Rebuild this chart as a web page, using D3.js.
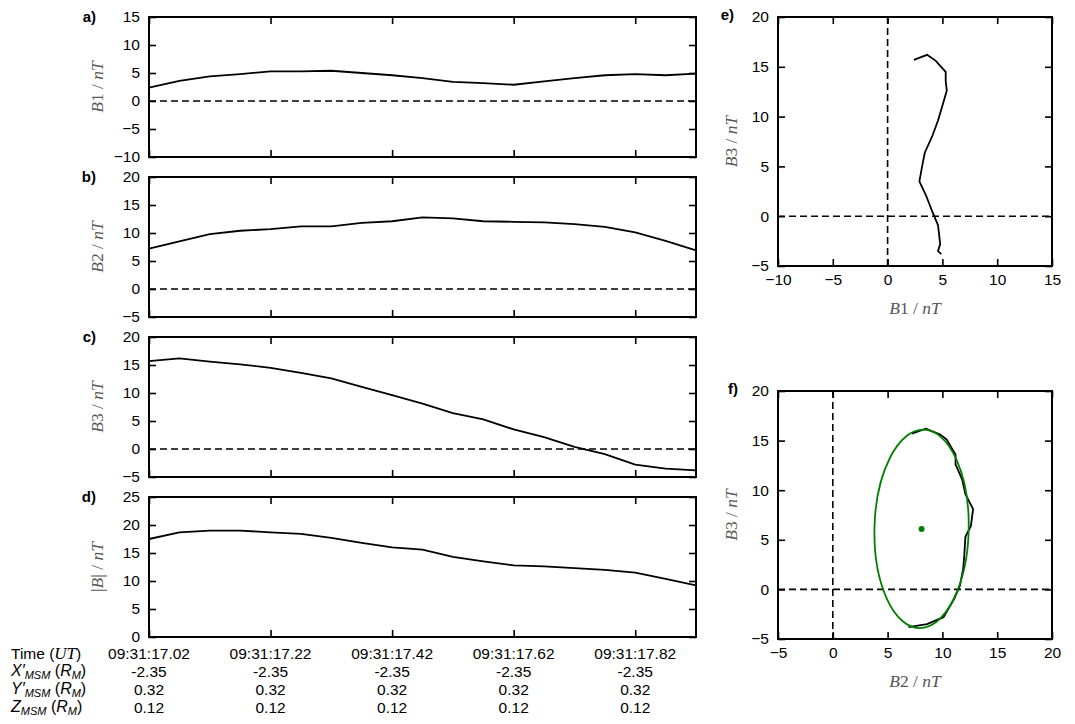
<!DOCTYPE html>
<meta charset="utf-8">
<style>
body { margin: 0; background: #fff; }
text { font-family: "Liberation Sans", Arial, sans-serif; }
.tick text { font-size: 15.5px; fill: #000; }
.tick line { stroke: #000; stroke-width: 1.6; }
.domain { display: none; }
.frame { fill: none; stroke: #000; stroke-width: 2; }
.zero { stroke: #000; stroke-width: 1.6; stroke-dasharray: 7,4; }
.trace { fill: none; stroke: #000; stroke-width: 1.8; }
.math { font-family: "Liberation Serif", "DejaVu Serif", serif; font-size: 17.5px; fill: #555; }
.tab { font-size: 15.5px; fill: #000; }
.letter { font-size: 15px; font-weight: bold; }
</style>
<svg width="1075" height="724"></svg>
<script src="https://d3js.org/d3.v7.min.js"></script>
<script>

// sample times (seconds after 09:31)
var times = [17.02, 17.07, 17.12, 17.17, 17.22, 17.27, 17.32, 17.37, 17.42, 17.47,
             17.52, 17.57, 17.62, 17.67, 17.72, 17.77, 17.82, 17.87, 17.92];
var B1 = [2.4, 3.6, 4.4, 4.8, 5.3, 5.3, 5.4, 5.0, 4.6, 4.1, 3.4, 3.2, 2.9, 3.5, 4.1, 4.6, 4.8, 4.6, 4.9];
var B2 = [7.2, 8.5, 9.8, 10.4, 10.7, 11.2, 11.2, 11.8, 12.1, 12.8, 12.6, 12.1, 12.0, 11.9, 11.6, 11.1, 10.1, 8.6, 6.9];
var B3 = [15.7, 16.2, 15.6, 15.1, 14.5, 13.6, 12.6, 11.1, 9.6, 8.1, 6.4, 5.3, 3.5, 2.1, 0.4, -0.9, -2.8, -3.5, -3.8];
var Bmag = [17.5, 18.7, 19.0, 19.0, 18.7, 18.4, 17.7, 16.8, 16.0, 15.6, 14.3, 13.5, 12.8, 12.6, 12.3, 12.0, 11.5, 10.4, 9.2];

var timeTicks = [17.02, 17.22, 17.42, 17.62, 17.82];
var timeLabels = ["09:31:17.02", "09:31:17.22", "09:31:17.42", "09:31:17.62", "09:31:17.82"];
var xMSM = ["-2.35", "-2.35", "-2.35", "-2.35", "-2.35"];
var yMSM = ["0.32", "0.32", "0.32", "0.32", "0.32"];
var zMSM = ["0.12", "0.12", "0.12", "0.12", "0.12"];

// fitted ellipse in B2-B3 plane: centre, semi-axes (B2, B3), tilt in degrees
var ellipseCenter = [8.1, 6.1];
var ellipseAxes = [4.3, 10.0];
var ellipseTilt = 1.3;

var svg = d3.select("svg");
var tickLen = 7;

function frame(g, x, y, xt, yt, showX, showY) {
  var w = x.range()[1] - x.range()[0], h = y.range()[0] - y.range()[1];
  g.append("g").attr("class", "axis")
      .attr("transform", "translate(0," + h + ")")
      .call(d3.axisBottom(x).tickValues(xt).tickSize(-tickLen).tickPadding(8)
        .tickFormat(showX ? null : ""));
  g.append("g").attr("class", "axis")
      .call(d3.axisTop(x).tickValues(xt).tickSize(-tickLen).tickFormat(""));
  g.append("g").attr("class", "axis")
      .call(d3.axisLeft(y).tickValues(yt).tickSize(-tickLen).tickPadding(9)
        .tickFormat(showY ? null : ""));
  g.append("g").attr("class", "axis")
      .attr("transform", "translate(" + w + ",0)")
      .call(d3.axisRight(y).tickValues(yt).tickSize(-tickLen).tickFormat(""));
  g.append("rect").attr("class", "frame").attr("width", w).attr("height", h);
}

function mathLabel(sel, parts) {
  parts.forEach(function(p) {
    sel.append("tspan").attr("font-style", p[1] ? "italic" : "normal").text(p[0]);
  });
}

// ---- left time-series panels
var left = 149, right = 696, ph = 140;
var panels = [
  {key: "a)", data: B1, dom: [-10, 15], name: [["B", 1], ["1 / ", 0], ["nT", 1]], top: 17},
  {key: "b)", data: B2, dom: [-5, 20], name: [["B", 1], ["2 / ", 0], ["nT", 1]], top: 177},
  {key: "c)", data: B3, dom: [-5, 20], name: [["B", 1], ["3 / ", 0], ["nT", 1]], top: 337},
  {key: "d)", data: Bmag, dom: [0, 25], name: [["|", 0], ["B", 1], ["| / ", 0], ["nT", 1]], top: 497}
];

var x = d3.scaleLinear().domain([17.02, 17.92]).range([0, right - left]);

panels.forEach(function(p, i) {
  var y = d3.scaleLinear().domain(p.dom).range([ph, 0]);
  var g = svg.append("g").attr("transform", "translate(" + left + "," + p.top + ")");

  g.append("line").attr("class", "zero")
      .attr("x1", 0).attr("x2", right - left)
      .attr("y1", y(0)).attr("y2", y(0));

  g.append("path").attr("class", "trace")
      .attr("d", d3.line()
        .x(function(d, j) { return x(times[j]); })
        .y(function(d) { return y(d); })(p.data));

  frame(g, x, y, timeTicks, d3.range(p.dom[0], p.dom[1] + 1, 5), false, true);

  var lab = svg.append("text").attr("class", "math")
      .attr("transform", "translate(103," + (p.top + ph / 2) + ") rotate(-90)")
      .attr("text-anchor", "middle");
  mathLabel(lab, p.name);

  svg.append("text").attr("class", "letter")
      .attr("x", 96).attr("y", p.top + 5).attr("text-anchor", "end").text(p.key);
});

// time / position table under panel d
var rows = [timeLabels, xMSM, yMSM, zMSM];
var rowY = [659, 677, 695, 713];
rows.forEach(function(r, k) {
  svg.selectAll(null).data(timeTicks).enter().append("text")
      .attr("class", "tab")
      .attr("x", function(d) { return left + x(d); })
      .attr("y", rowY[k])
      .attr("text-anchor", "middle")
      .text(function(d, j) { return r[j]; });
});

var t0 = svg.append("text").attr("class", "tab").attr("x", 11).attr("y", rowY[0]);
t0.append("tspan").text("Time (");
t0.append("tspan").attr("font-family", "Liberation Serif, serif").attr("font-style", "italic")
    .attr("font-size", 17).text("UT");
t0.append("tspan").text(")");

[["X", "′"], ["Y", "′"], ["Z", ""]].forEach(function(v, k) {
  var t = svg.append("text").attr("x", 11).attr("y", rowY[k + 1] - 1)
      .attr("font-family", "Liberation Serif, serif").attr("font-size", 16);
  t.append("tspan").attr("font-style", "italic").text(v[0] + v[1]);
  t.append("tspan").attr("font-style", "italic").attr("font-size", 11).attr("dy", 3).text("MSM");
  t.append("tspan").attr("dy", -3).text(" (");
  t.append("tspan").attr("font-style", "italic").text("R");
  t.append("tspan").attr("font-style", "italic").attr("font-size", 11).attr("dy", 3).text("M");
  t.append("tspan").attr("dy", -3).text(")");
});

// ---- hodograms
var hx0 = 778, hx1 = 1052;

function hodo(top, bottom, xdom, ydom, xs, ys, xname, yname, key, keyX) {
  var xs_ = d3.scaleLinear().domain(xdom).range([0, hx1 - hx0]);
  var ys_ = d3.scaleLinear().domain(ydom).range([bottom - top, 0]);
  var g = svg.append("g").attr("transform", "translate(" + hx0 + "," + top + ")");

  g.append("line").attr("class", "zero")
      .attr("x1", 0).attr("x2", hx1 - hx0).attr("y1", ys_(0)).attr("y2", ys_(0));
  g.append("line").attr("class", "zero")
      .attr("x1", xs_(0)).attr("x2", xs_(0)).attr("y1", 0).attr("y2", bottom - top);

  g.append("path").attr("class", "trace")
      .attr("d", d3.line()
        .x(function(d, j) { return xs_(xs[j]); })
        .y(function(d, j) { return ys_(ys[j]); })(xs));

  frame(g, xs_, ys_, d3.range(xdom[0], xdom[1] + 1, 5), d3.range(ydom[0], ydom[1] + 1, 5), true, true);

  var yl = svg.append("text").attr("class", "math")
      .attr("transform", "translate(737," + ((top + bottom) / 2) + ") rotate(-90)")
      .attr("text-anchor", "middle");
  mathLabel(yl, yname);
  var xl = svg.append("text").attr("class", "math")
      .attr("x", (hx0 + hx1) / 2).attr("y", bottom + 48)
      .attr("text-anchor", "middle");
  mathLabel(xl, xname);

  svg.append("text").attr("class", "letter")
      .attr("x", keyX).attr("y", top + 3).attr("text-anchor", "end").text(key);
  return {g: g, x: xs_, y: ys_};
}

hodo(17, 266, [-10, 15], [-5, 20], B1, B3,
     [["B", 1], ["1 / ", 0], ["nT", 1]], [["B", 1], ["3 / ", 0], ["nT", 1]], "e)", 734);

var f = hodo(391, 639, [-5, 20], [-5, 20], B2, B3,
     [["B", 1], ["2 / ", 0], ["nT", 1]], [["B", 1], ["3 / ", 0], ["nT", 1]], "f)", 738);

var cx = f.x(ellipseCenter[0]), cy = f.y(ellipseCenter[1]);
f.g.append("ellipse")
    .attr("cx", cx).attr("cy", cy)
    .attr("rx", f.x(ellipseCenter[0] + ellipseAxes[0]) - cx)
    .attr("ry", cy - f.y(ellipseCenter[1] + ellipseAxes[1]))
    .attr("transform", "rotate(" + ellipseTilt + "," + cx + "," + cy + ")")
    .attr("fill", "none").attr("stroke", "#008000").attr("stroke-width", 1.8);
f.g.append("circle").attr("cx", cx).attr("cy", cy).attr("r", 3).attr("fill", "#008000");

</script>
